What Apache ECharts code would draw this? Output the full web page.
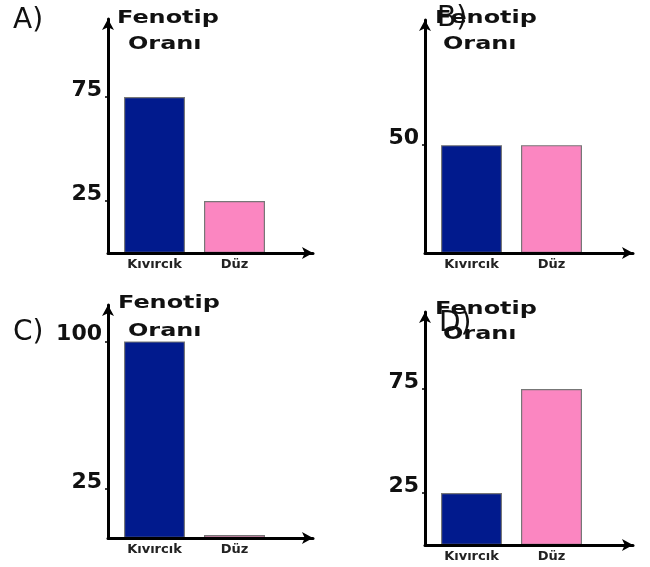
<!DOCTYPE html>
<html>
<head>
<meta charset="utf-8">
<script src="https://cdn.jsdelivr.net/npm/echarts@6/dist/echarts.min.js"></script>
<style>html,body{margin:0;padding:0;background:#fff}#c{width:650px;height:567px}</style>
</head>
<body>
<div id="c"></div>
<script>
// ---- data ----
const categories = ['Kıvırcık', 'Düz'];
const panelLetters = ['A)', 'B)', 'C)', 'D)'];
const valuesA = [75, 25];
const valuesB = [50, 50];
const valuesC = [100, 1.5];
const valuesD = [25, 75];
const ticksA = [25, 75];
const ticksB = [50];
const ticksC = [25, 100];
const ticksD = [25, 75];
const titleLine1 = 'Fenotip';
const titleLine2 = 'Oranı';

// ---- layout (styles / positions only) ----
const barColors = ['#011a8d', '#fb86c1'];
const panels = [
  { values: valuesA, ticks: ticksA, axisX: 108, top: 19, base: 253, arrowEnd: 313, max: 112.5, barLeft: 114.5,
    letter: [13, 21], t1: [117, 18], t2: [128, 44] },
  { values: valuesB, ticks: ticksB, axisX: 425, top: 20, base: 253, arrowEnd: 633, max: 108, barLeft: 431.5,
    letter: [437, 19], t1: [435, 18], t2: [443, 44] },
  { values: valuesC, ticks: ticksC, axisX: 108, top: 305, base: 538, arrowEnd: 313, max: 118.5, barLeft: 114.5,
    letter: [13, 333], t1: [118, 303], t2: [128, 331] },
  { values: valuesD, ticks: ticksD, axisX: 425, top: 312, base: 545, arrowEnd: 633, max: 112, barLeft: 431.5,
    letter: [439, 324], t1: [435, 309], t2: [443, 334] }
];

const grid = [], xAxis = [], yAxis = [], series = [], graphic = [];
const axisLineStyle = { show: true, lineStyle: { color: '#000', width: 3 }, symbol: ['none', 'arrow'], symbolSize: [9, 11] };
const titleFont = { fontSize: 18, fontWeight: 'bold', fontFamily: 'DejaVu Sans', fill: '#111', verticalAlign: 'middle' };

panels.forEach((p, i) => {
  const h = p.base - p.top;
  // axis frame grid
  grid.push({ left: p.axisX, top: p.top, width: p.arrowEnd - p.axisX, height: h });
  // bar grid
  grid.push({ left: p.barLeft, top: p.top, width: 160, height: h });
  xAxis.push({ type: 'value', gridIndex: 2 * i, min: 0, max: 1, z: 5,
    axisLine: axisLineStyle, axisTick: { show: false }, axisLabel: { show: false }, splitLine: { show: false } });
  xAxis.push({ type: 'category', gridIndex: 2 * i + 1, data: categories,
    axisLine: { show: false }, axisTick: { show: false },
    axisLabel: { margin: 5, fontSize: 13, fontWeight: 'bold', color: '#222', fontFamily: 'DejaVu Sans' } });
  yAxis.push({ type: 'value', gridIndex: 2 * i, min: 0, max: p.max, z: 5,
    axisLine: axisLineStyle, splitLine: { show: false },
    axisTick: { show: true, customValues: p.ticks, length: 3, lineStyle: { color: '#000', width: 1.5 } },
    axisLabel: { customValues: p.ticks, margin: 6, fontSize: 22, fontWeight: 'bold', color: '#111',
      fontFamily: 'DejaVu Sans', verticalAlign: 'bottom', lineHeight: 14 } });
  yAxis.push({ type: 'value', gridIndex: 2 * i + 1, min: 0, max: p.max, show: false, splitLine: { show: false } });
  series.push({
    type: 'bar', xAxisIndex: 2 * i + 1, yAxisIndex: 2 * i + 1, barWidth: 61,
    data: p.values.map((v, k) => ({ value: v, itemStyle: { color: barColors[k] } })),
    itemStyle: { borderColor: '#777', borderWidth: 1.2 }
  });
  graphic.push({ type: 'text', x: p.t1[0], y: p.t1[1], scaleX: 1.33, z: 10,
    style: Object.assign({ text: titleLine1 }, titleFont) });
  graphic.push({ type: 'text', x: p.t2[0], y: p.t2[1], scaleX: 1.33, z: 10,
    style: Object.assign({ text: titleLine2 }, titleFont) });
  graphic.push({ type: 'text', x: p.letter[0], y: p.letter[1], z: 11,
    style: { text: panelLetters[i], fontSize: 28, fontFamily: 'DejaVu Sans', fill: '#111', verticalAlign: 'middle' } });
});

const chart = echarts.init(document.getElementById('c'));
chart.setOption({
  animation: false,
  backgroundColor: '#fff',
  grid, xAxis, yAxis, series, graphic
});
</script>
</body>
</html>
